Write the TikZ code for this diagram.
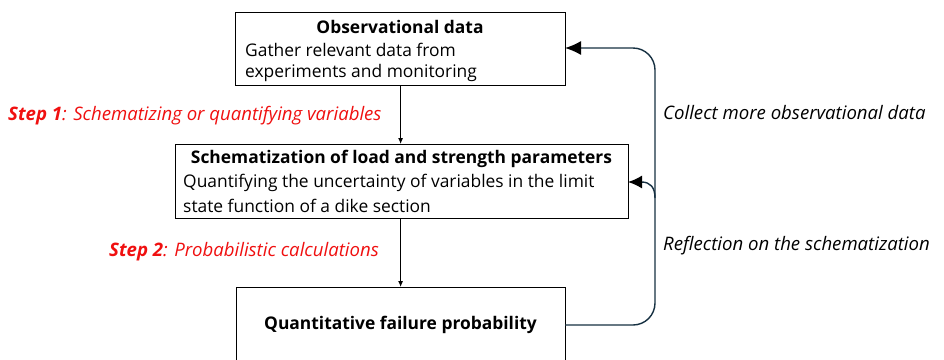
\documentclass[tikz,border=0pt]{standalone}
\usepackage{fontspec}
\setmainfont{Open Sans}
\usetikzlibrary{arrows.meta}
\definecolor{steptext}{RGB}{240,16,16}
\definecolor{loopline}{RGB}{22,48,66}
\tikzset{
  box/.style={draw=black, line width=1.2bp, inner sep=0pt, anchor=north west},
  txt/.style={inner sep=0pt, font=\fontsize{17.4bp}{23bp}\selectfont},
  title/.style={txt, font=\fontsize{17.4bp}{23bp}\selectfont\bfseries},
  steplabel/.style={txt, anchor=west, text=steptext, font=\fontsize{18.6bp}{23bp}\selectfont\itshape},
  note/.style={txt, anchor=west, font=\fontsize{18.6bp}{23bp}\selectfont\itshape},
  down/.style={line width=1bp, -{Latex[length=6bp,width=5bp]}},
  fb/.style={draw=loopline, line width=1.4bp, -{Latex[length=16bp,width=14bp,color=black]}}
}
\begin{document}
\begin{tikzpicture}[x=1bp, y=-1bp]
\useasboundingbox (0,0) rectangle (944,359);
\clip (0,0) rectangle (944,359);
\fill[white] (0,0) rectangle (944,359);

% boxes
\node[box, minimum width=330bp, minimum height=73bp] (obs) at (235,12) {};
\node[box, minimum width=453bp, minimum height=74bp] (sch) at (175,144) {};
\node[box, minimum width=329bp, minimum height=100bp] (fail) at (236,287) {};

% box texts
\node[title] (obsT) at (400,27) {Observational data};
\node[txt, anchor=west] (obsA) at (245,50) {Gather relevant data from};
\node[txt, anchor=west] (obsB) at (245,73) {experiments and monitoring};

\node[title] (schT) at (401.5,159) {Schematization of load and strength parameters};
\node[txt, anchor=west] (schA) at (183,183) {Quantifying the uncertainty of variables in the limit};
\node[txt, anchor=west] (schB) at (183,206) {state function of a dike section};

\node[title] (failT) at (400.5,325) {Quantitative failure probability};

% step labels
\node[steplabel] (s1) at (8,116) {\textbf{Step 1}: Schematizing or quantifying variables};
\node[steplabel] (s2) at (109,252) {\textbf{Step 2}: Probabilistic calculations};

% feedback labels
\node[note] (n1) at (663,113) {Collect more observational data};
\node[note] (n2) at (663,246) {Reflection on the schematization};

% main flow
\draw[down] (obs.south) -- (obs.south |- sch.north);
\draw[down] (sch.south -| obs.south) -- (obs.south |- fail.north);

% feedback loop
\coordinate (fbStart) at (565,325);
\coordinate (fbTop) at (565,48);
\coordinate (fbMid) at (628,182);
\draw[fb, rounded corners=22bp] (fbStart) -- (655,325) -- (655,48) -- (fbTop);
\draw[fb, -{Latex[length=14bp,width=13bp,color=black]}] (655,198) .. controls (655,187) and (650,182) .. (fbMid);
\end{tikzpicture}
\end{document}
